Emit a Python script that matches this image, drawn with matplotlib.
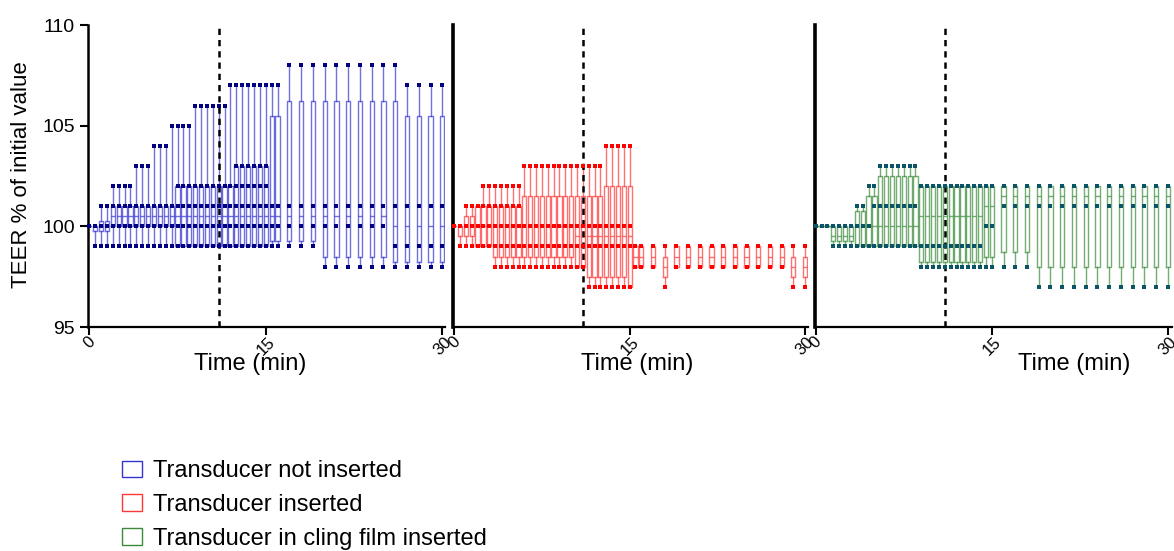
import numpy as np
import matplotlib
matplotlib.use('Agg')
import matplotlib.pyplot as plt
from matplotlib.patches import Patch

plt.rcParams['font.family'] = ['Liberation Sans', 'DejaVu Sans']


## TEER readings, 4 wells per time point, as box stats + the distinct well values


# --- transducer not inserted ---
t_not = [0, 0.5, 1, 1.5, 2, 2.5, 3, 3.5, 4, 4.5, 5, 5.5, 6, 6.5, 7, 7.5, 8, 8.5, 9, 9.5,
         10, 10.5, 11, 11.5, 12, 12.5, 13, 13.5, 14, 14.5, 15, 15.5, 16,
         17, 18, 19, 20, 21, 22, 23, 24, 25, 26, 27, 28, 29, 30]
pts_not = [[100], [99, 100], [99, 100, 101], [99, 100, 101],
           [99, 100, 101, 102], [99, 100, 101, 102], [99, 100, 101, 102], [99, 100, 101, 102],
           [99, 100, 101, 103], [99, 100, 101, 103], [99, 100, 101, 103],
           [99, 100, 101, 104], [99, 100, 101, 104], [99, 100, 101, 104],
           [99, 100, 101, 105],
           [99, 100, 101, 102, 105], [99, 100, 101, 102, 105], [99, 100, 101, 102, 105],
           [99, 100, 101, 102, 106], [99, 100, 101, 102, 106], [99, 100, 101, 102, 106],
           [99, 100, 101, 102, 106], [99, 100, 101, 102, 106], [99, 100, 101, 102, 106],
           [99, 100, 101, 102, 107],
           [99, 100, 101, 102, 103, 107], [99, 100, 101, 102, 103, 107], [99, 100, 101, 102, 103, 107],
           [99, 100, 101, 102, 103, 107], [99, 100, 101, 102, 103, 107], [99, 100, 101, 102, 103, 107],
           [99, 100, 101, 107], [99, 100, 101, 107],
           [99, 100, 101, 108], [99, 100, 101, 108], [99, 100, 101, 108],
           [98, 100, 101, 108], [98, 100, 101, 108], [98, 100, 101, 108],
           [98, 100, 101, 108], [98, 100, 101, 108], [98, 100, 101, 108],
           [98, 99, 101, 108],
           [98, 99, 101, 107], [98, 99, 101, 107], [98, 99, 101, 107], [98, 99, 101, 107]]
q1_not = [100, 99.75, 99.75, 99.75,
          100, 100, 100, 100, 100, 100, 100, 100, 100, 100, 100,
          99, 99, 99, 99, 99, 99, 99, 99, 99, 99,
          99, 99, 99, 99, 99, 99,
          99.25, 99.25, 99.25, 99.25, 99.25,
          98.5, 98.5, 98.5, 98.5, 98.5, 98.5,
          98.25, 98.25, 98.25, 98.25, 98.25]
med_not = [100, 100, 100, 100,
           100.5, 100.5, 100.5, 100.5, 100.5, 100.5, 100.5, 100.5, 100.5, 100.5, 100.5,
           100.5, 100.5, 100.5, 100.5, 100.5, 100.5, 100.5, 100.5, 100.5, 100.5,
           100.5, 100.5, 100.5, 100.5, 100.5, 100.5,
           100.5, 100.5, 100.5, 100.5, 100.5,
           100.5, 100.5, 100.5, 100.5, 100.5, 100.5,
           100, 100, 100, 100, 100]
q3_not = [100, 100, 100.25, 100.25,
          101, 101, 101, 101, 101, 101, 101, 101, 101, 101, 101,
          102, 102, 102, 102, 102, 102, 102, 102, 102, 102,
          103, 103, 103, 103, 103, 103,
          105.5, 105.5, 106.25, 106.25, 106.25,
          106.25, 106.25, 106.25, 106.25, 106.25, 106.25,
          106.25, 105.5, 105.5, 105.5, 105.5]

# --- transducer inserted ---
t_ins = list(t_not)
pts_ins = [[100], [99, 100], [99, 100, 101], [99, 100, 101], [99, 100, 101],
           [99, 100, 101, 102], [99, 100, 101, 102],
           [98, 99, 100, 101, 102], [98, 99, 100, 101, 102], [98, 99, 100, 101, 102],
           [98, 99, 100, 101, 102], [98, 99, 100, 101, 102],
           [98, 99, 100, 103], [98, 99, 100, 103], [98, 99, 100, 103], [98, 99, 100, 103],
           [98, 99, 100, 103], [98, 99, 100, 103], [98, 99, 100, 103], [98, 99, 100, 103],
           [98, 99, 100, 103],
           [98, 99, 100, 103], [98, 99, 100, 103],
           [97, 99, 100, 103], [97, 99, 100, 103], [97, 99, 100, 103],
           [97, 99, 100, 104], [97, 99, 100, 104], [97, 99, 100, 104], [97, 99, 100, 104],
           [97, 99, 100, 104],
           [98, 99], [98, 99], [98, 99], [97, 99],
           [98, 99], [98, 99], [98, 99], [98, 99], [98, 99],
           [98, 99], [98, 99], [98, 99], [98, 99], [98, 99],
           [97, 99], [97, 99]]
q1_ins = [100, 99.5, 99.5, 99.5, 99, 99, 99,
          98.5, 98.5, 98.5, 98.5, 98.5,
          98.5, 98.5, 98.5, 98.5, 98.5, 98.5, 98.5, 98.5, 98.5,
          98, 98,
          97.5, 97.5, 97.5, 97.5, 97.5, 97.5, 97.5, 97,
          98, 98, 98, 97.5,
          98, 98, 98, 98, 98, 98, 98, 98, 98, 98,
          97.5, 97.5]
med_ins = [100, 100, 100, 100, 100, 100, 100,
           100, 100, 100, 100, 100,
           100, 100, 100, 100, 100, 100, 100, 100, 100,
           99.5, 99.5,
           99.5, 99.5, 99.5, 99.5, 99.5, 99.5, 99.5, 99.5,
           98.5, 98.5, 98.5, 98,
           98.5, 98.5, 98.5, 98.5, 98.5, 98.5, 98.5, 98.5, 98.5, 98.5,
           98, 98]
q3_ins = [100, 100, 100.5, 100.5, 101, 101, 101,
          101, 101, 101, 101, 101,
          101.5, 101.5, 101.5, 101.5, 101.5, 101.5, 101.5, 101.5, 101.5,
          101.5, 101.5,
          101.5, 101.5, 101.5, 102, 102, 102, 102, 102,
          99, 99, 99, 98.5,
          99, 99, 99, 99, 99, 99, 99, 99, 99, 99,
          98.5, 98.5]

# --- transducer in cling film inserted ---
t_film = [0, 0.5, 1, 1.5, 2, 2.5, 3, 3.5, 4, 4.5, 5, 5.5, 6, 6.5, 7, 7.5, 8, 8.5, 9, 9.5,
          10, 10.5, 11, 11.5, 12, 12.5, 13, 13.5, 14, 14.5, 15,
          16, 17, 18, 19, 20, 21, 22, 23, 24, 25, 26, 27, 28, 29, 30]
pts_film = [[100], [100], [100],
            [99, 100], [99, 100], [99, 100], [99, 100],
            [99, 100, 101], [99, 100, 101],
            [99, 100, 102], [99, 101, 102],
            [99, 101, 103], [99, 101, 103], [99, 101, 103], [99, 101, 103],
            [99, 101, 103], [99, 101, 103], [99, 101, 103],
            [98, 99, 102], [98, 99, 102], [98, 99, 102], [98, 99, 102], [98, 99, 102],
            [98, 99, 102], [98, 99, 102], [98, 99, 102], [98, 99, 102], [98, 99, 102],
            [98, 99, 102],
            [98, 100, 102], [98, 100, 102],
            [98, 101, 102], [98, 101, 102], [98, 101, 102],
            [97, 101, 102], [97, 101, 102], [97, 101, 102], [97, 101, 102],
            [97, 101, 102], [97, 101, 102], [97, 101, 102], [97, 101, 102],
            [97, 101, 102], [97, 101, 102], [97, 101, 102], [97, 101, 102]]
q1_film = [100, 100, 100, 99.25, 99.25, 99.25, 99.25, 99, 99, 99, 99,
           99, 99, 99, 99, 99, 99, 99,
           98.25, 98.25, 98.25, 98.25, 98.25, 98.25, 98.25, 98.25, 98.25, 98.25, 98.25,
           98.5, 98.5,
           98.75, 98.75, 98.75,
           98, 98, 98, 98, 98, 98, 98, 98, 98, 98, 98, 98]
med_film = [100, 100, 100, 99.5, 99.5, 99.5, 99.5, 100, 100, 100, 100,
            100, 100, 100, 100, 100, 100, 100,
            100.5, 100.5, 100.5, 100.5, 100.5, 100.5, 100.5, 100.5, 100.5, 100.5, 100.5,
            101, 101,
            101.5, 101.5, 101.5,
            101.5, 101.5, 101.5, 101.5, 101.5, 101.5, 101.5, 101.5, 101.5, 101.5, 101.5, 101.5]
q3_film = [100, 100, 100, 100, 100, 100, 100, 100.75, 100.75, 101.5, 101.5,
           102.5, 102.5, 102.5, 102.5, 102.5, 102.5, 102.5,
           102, 102, 102, 102, 102, 102, 102, 102, 102, 102, 102,
           102, 102,
           102, 102, 102,
           102, 102, 102, 102, 102, 102, 102, 102, 102, 102, 102, 102]

labels = ['Transducer not inserted', 'Transducer inserted', 'Transducer in cling film inserted']
box_colors = ['#3434d0', '#ff3636', '#3a8a3a']
dot_colors = ['#000080', '#ff0000', '#0b5468']
t_switch = 11


def draw_panel(ax, times, pts, q1, med, q3, box_col, dot_col):
    stats = []
    for p, a, m, b in zip(pts, q1, med, q3):
        stats.append({'whislo': min(p), 'q1': a, 'med': m, 'q3': b,
                      'whishi': max(p), 'fliers': []})
    lp = dict(color=box_col, linewidth=1.0, alpha=0.7)
    ax.bxp(stats, positions=times, widths=0.36, showcaps=False, showfliers=False,
           boxprops=lp, whiskerprops=lp, medianprops=lp, manage_ticks=False)
    for t, p in zip(times, pts):
        ax.scatter([t] * len(p), p, marker='s', s=10, color=dot_col, lw=0,
                   zorder=4, clip_on=False)
    ax.axvline(t_switch, color='black', ls=(0, (2.5, 2)), lw=1.8, zorder=3)


fig = plt.figure(figsize=(11.74, 5.51), dpi=100)
W, H = 1174.0, 551.0
bottom = (H - 327) / H
height = 302 / H
ax1 = fig.add_axes([88 / W, bottom, 357 / W, height])
ax2 = fig.add_axes([453 / W, bottom, 355 / W, height])
ax3 = fig.add_axes([815 / W, bottom, 357 / W, height])

draw_panel(ax1, t_not, pts_not, q1_not, med_not, q3_not, box_colors[0], dot_colors[0])
draw_panel(ax2, t_ins, pts_ins, q1_ins, med_ins, q3_ins, box_colors[1], dot_colors[1])
draw_panel(ax3, t_film, pts_film, q1_film, med_film, q3_film, box_colors[2], dot_colors[2])

xlims = [(-0.11, 30.23), (-0.1, 30.25), (-0.06, 30.35)]
label_x = [0.455, 0.52, 0.725]
for ax, xl, lx in zip([ax1, ax2, ax3], xlims, label_x):
    ax.set_xlim(xl)
    ax.set_ylim(95, 110)
    ax.set_facecolor('none')
    for s in ['top', 'right']:
        ax.spines[s].set_visible(False)
    ax.spines['bottom'].set_linewidth(1.6)
    ax.set_xticks([0, 15, 30])
    ax.set_xticklabels(['0', '15', '30'], rotation=45, fontsize=12)
    ax.tick_params(axis='x', direction='out', length=6, width=1.5, pad=-1)
    ax.set_xlabel('Time (min)', fontsize=17)
    ax.xaxis.set_label_coords(lx, -0.085)

ax1.spines['left'].set_linewidth(1.8)
ax1.set_yticks([95, 100, 105, 110])
ax1.tick_params(axis='y', direction='out', length=6, width=1.5, labelsize=14)
for ax in [ax2, ax3]:
    ax.spines['left'].set_linewidth(2.6)
    ax.set_yticks([])

fig.text(22 / W, 1 - 175 / H, 'TEER % of initial value', rotation=90,
         ha='center', va='center', fontsize=16)

handles = [Patch(facecolor='white', edgecolor=c, linewidth=1.0) for c in box_colors]
fig.legend(handles, labels, loc='upper left', bbox_to_anchor=(108 / W, 1 - 446 / H),
           frameon=False, fontsize=17, handlelength=0.85, handleheight=0.7,
           labelspacing=0.5, handletextpad=0.45, borderaxespad=0.2)

fig.savefig('out.png', dpi=100)
